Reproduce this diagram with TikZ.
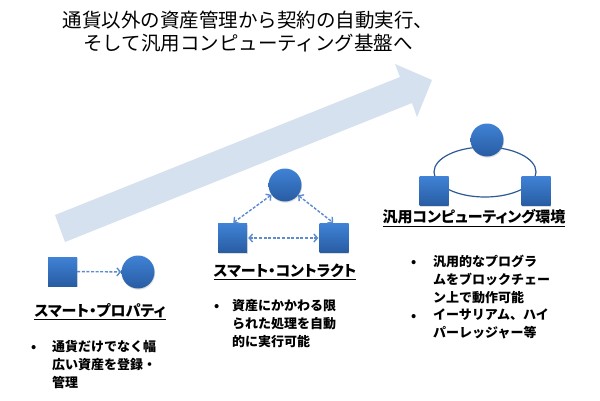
\documentclass[tikz,border=0pt]{standalone}
\usepackage{fontspec}
\setmainfont{Noto Sans CJK JP}
\newfontfamily\headfont[RawFeature=+palt]{Noto Sans CJK JP}
\usetikzlibrary{arrows.meta,shadows}

\definecolor{BandColor}{RGB}{213,225,239}
\definecolor{ShapeTop}{RGB}{64,130,214}
\definecolor{ShapeBottom}{RGB}{40,92,162}
\definecolor{LinkColor}{RGB}{92,140,206}
\definecolor{RingColor}{RGB}{45,90,148}

\tikzstyle{shapebase}=[draw=none,
                       top color=ShapeTop,
                       bottom color=ShapeBottom,
                       drop shadow={opacity=0.25, shadow xshift=0.6pt, shadow yshift=-1.2pt}]
\tikzstyle{asset}=[shapebase, rectangle, minimum size=29pt, inner sep=0pt]
\tikzstyle{agent}=[shapebase, circle, minimum size=33pt, inner sep=0pt]
\tikzstyle{heading}=[font=\headfont\bfseries\fontsize{15}{17}\selectfont]
\tikzstyle{bullet}=[font=\bfseries\fontsize{13}{18}\selectfont, anchor=north west, inner sep=0pt]
\tikzstyle{desc}=[font=\bfseries\fontsize{13}{18}\selectfont, align=left, anchor=north west, inner sep=0pt]
\tikzstyle{link}=[draw=LinkColor, line width=1.4pt, dash pattern=on 3pt off 1.6pt]
\tikzstyle{linkone}=[link, -{Straight Barb[length=3.5pt,width=8pt]}]
\tikzstyle{linkboth}=[link, {Straight Barb[length=3.5pt,width=8pt]}-{Straight Barb[length=3.5pt,width=8pt]}]

\begin{document}
\begin{tikzpicture}[x=1pt, y=-1pt]
    \useasboundingbox (0,0) rectangle (600,400);
    \fill[white] (0,0) rectangle (600,400);

      % big arrow in the back
      \fill[BandColor] (55,215) -- (400,77) -- (395,64) -- (432,80) -- (417,117) -- (412,103) -- (65,242) -- cycle;

      \node at (248, 31.5) (title) [font=\fontsize{19.5}{23}\selectfont, align=center]
            {通貨以外の資産管理から契約の自動実行、\\そして汎用コンピューティング基盤へ};

      % smart property
      \node at ( 62.5, 271.5) (prop_sq)  [asset] {};
      \node at (138.0, 272.0) (prop_ci)  [agent] {};
      \node at (100.0, 312.0) (prop_hd)  [heading] {\underline{スマート・プロパティ}};
      \node at ( 31.0, 345.0) (prop_bl)  [bullet] {•};
      \node at ( 52.0, 340.0) (prop_txt) [desc]   {通貨だけでなく幅\\広い資産を登録・\\管理};

      \draw[linkone] (prop_sq) -- (prop_ci);

      % smart contract
      \node at (285.0, 185.0) (cont_ci)  [agent] {};
      \node at (232.5, 238.0) (cont_sqa) [asset] {};
      \node at (334.0, 238.0) (cont_sqb) [asset] {};
      \node at (285.0, 272.0) (cont_hd)  [heading] {\underline{スマート・コントラクト}};
      \node at (214.0, 304.0) (cont_bl)  [bullet] {•};
      \node at (232.0, 299.0) (cont_txt) [desc]   {資産にかかわる限\\られた処理を自動\\的に実行可能};

      \draw[linkboth, shorten >=1pt] (cont_ci) -- (cont_sqa.north);
      \draw[linkboth, shorten >=1pt] (cont_ci) -- (cont_sqb.north);
      \draw[linkboth, shorten <=1pt, shorten >=1pt] (cont_sqa) -- (cont_sqb);

      % general computing
      \coordinate (ring) at (485, 172);
      \draw[RingColor, line width=1.2pt] (ring) ellipse [x radius=51, y radius=25];
      \node at (487.0, 140.0) (comp_ci)  [agent] {};
      \node at (434.0, 191.0) (comp_sqa) [asset] {};
      \node at (536.0, 191.0) (comp_sqb) [asset] {};
      \node at (474.0, 218.0) (comp_hd)  [heading] {\underline{汎用コンピューティング環境}};
      \node at (411.0, 260.0) (comp_bla) [bullet] {•};
      \node at (433.0, 255.0) (comp_txa) [desc]   {汎用的なプログラ\\ムをブロックチェー\\ン上で動作可能};
      \node at (411.0, 314.0) (comp_blb) [bullet] {•};
      \node at (433.0, 309.0) (comp_txb) [desc]   {イーサリアム、ハイ\\パーレッジャー等};
  \end{tikzpicture}
\end{document}
